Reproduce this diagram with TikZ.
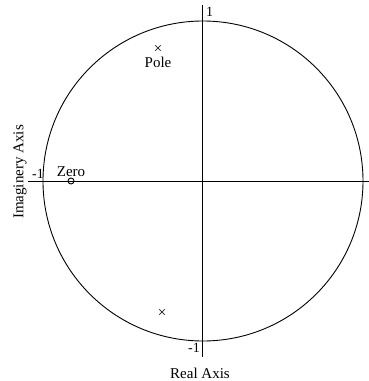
\documentclass[tikz,border=0pt]{standalone}
\usepackage{fontspec}
\setmainfont{Liberation Serif}
\usetikzlibrary{positioning}

\begin{document}
\begin{tikzpicture}[
    x=1pt, y=1pt,
    axis/.style={line width=1pt},
    unit/.style={line width=0.9pt},
    label/.style={font=\fontsize{15}{17}\selectfont, inner sep=1pt},
    tick/.style={font=\fontsize{14}{16}\selectfont, inner sep=1pt},
    polemark/.style={font=\fontsize{15}{17}\selectfont, inner sep=0pt},
    zeromark/.style={circle, draw, line width=0.9pt, minimum size=6pt, inner sep=0pt}
]
    % Frame
    \useasboundingbox (-203,-200) rectangle (166,181);

    % Unit circle
    \coordinate (o) at (0,0);
    \draw[unit] (o) circle (160);

    % Axes
    \coordinate (xl) at (-175,0);
    \coordinate (xr) at (166,0);
    \coordinate (yt) at (0,176);
    \coordinate (yb) at (0,-176);
    \draw[axis] (xl) -- (xr);
    \draw[axis] (yt) -- (yb);

    % Axis ticks
    \node[tick, anchor=south west] (one) at (2,163) {1};
    \node[tick, anchor=south east] (mone) at (-158,1) {-1};
    \node[tick, anchor=north east] (monebot) at (-2,-161) {-1};

    % Poles and zero
    \node[polemark] (p1) at (-45,132) {×};
    \node[label, below=3pt of p1] (pole) {Pole};
    \node[polemark] (p2) at (-41,-132) {×};
    \node[zeromark] (z) at (-132,0) {};
    \node[label, above=0pt of z] (zero) {Zero};

    % Axis labels
    \node[label] (real) at (-3,-192) {Real Axis};
    \node[label, rotate=90] (imag) at (-183,9) {Imaginery Axis};

\end{tikzpicture}
\end{document}
